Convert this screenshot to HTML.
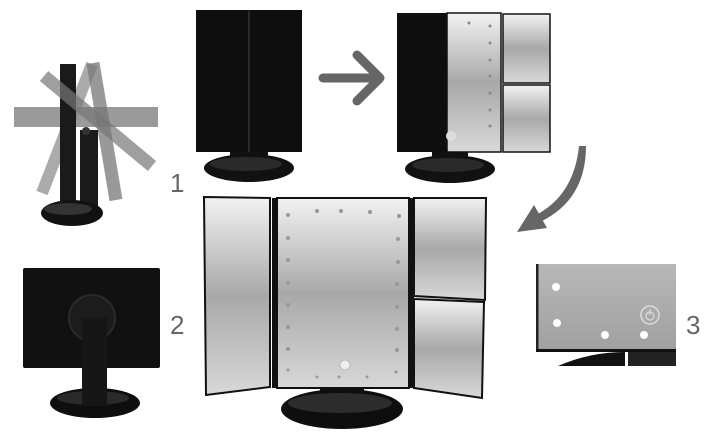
<!DOCTYPE html>
<html><head><meta charset="utf-8"><style>
html,body{margin:0;padding:0;background:#fff;width:720px;height:447px;overflow:hidden}
svg{display:block}
text{font-family:"Liberation Sans",sans-serif;fill:#555}
</style></head><body>
<svg width="720" height="447" viewBox="0 0 720 447" xmlns="http://www.w3.org/2000/svg">
<defs>
<linearGradient id="m" x1="0" y1="0" x2="0" y2="1">
<stop offset="0" stop-color="#f2f2f2"/><stop offset="0.5" stop-color="#a8a8a8"/><stop offset="1" stop-color="#d8d8d8"/>
</linearGradient>
<linearGradient id="g3" x1="0" y1="0" x2="0" y2="1">
<stop offset="0" stop-color="#b8b8b8"/><stop offset="1" stop-color="#a0a0a0"/>
</linearGradient>
</defs>
<rect width="720" height="447" fill="#fff"/>

<!-- fig 1 tilting -->
<g stroke-linecap="butt">
<line x1="42" y1="193" x2="92" y2="64" stroke="#888" stroke-width="12" opacity="0.7"/>
<rect x="14" y="107" width="144" height="20" fill="#888" opacity="0.85"/>
<rect x="60" y="64" width="16" height="140" fill="#1a1a1a"/>
<line x1="93" y1="63" x2="116" y2="200" stroke="#777" stroke-width="13" opacity="0.75"/>
<line x1="44" y1="76" x2="152" y2="166" stroke="#777" stroke-width="13" opacity="0.7"/>
<rect x="80" y="130" width="18" height="80" fill="#1a1a1a"/>
<circle cx="86" cy="131" r="4" fill="#333"/>
<ellipse cx="72" cy="213" rx="31" ry="13" fill="#111"/>
<ellipse cx="68" cy="209" rx="24" ry="6" fill="#333"/>
</g>
<text x="170" y="192" font-size="26" style="fill:#666">1</text>

<!-- top closed mirror -->
<rect x="230" y="145" width="38" height="15" fill="#111"/>
<ellipse cx="249" cy="168" rx="45" ry="14" fill="#111"/>
<ellipse cx="246" cy="164" rx="36" ry="7" fill="#2a2a2a"/>
<rect x="196" y="10" width="106" height="142" fill="#0e0e0e"/>
<line x1="249" y1="11" x2="249" y2="152" stroke="#444" stroke-width="1"/>

<!-- arrow right -->
<path d="M323 78 H378 M357 55 L380 78 L357 101" fill="none" stroke="#666" stroke-width="9" stroke-linecap="round" stroke-linejoin="round"/>

<!-- top right -->
<rect x="432" y="148" width="36" height="14" fill="#111"/>
<ellipse cx="450" cy="169" rx="45" ry="14" fill="#111"/>
<ellipse cx="448" cy="165" rx="36" ry="7" fill="#2a2a2a"/>
<rect x="397" y="13" width="51" height="139" fill="#0e0e0e"/>
<rect x="447" y="13" width="54" height="139" fill="url(#m)" stroke="#111" stroke-width="1.5"/>
<rect x="503" y="14" width="47" height="69" fill="url(#m)" stroke="#111" stroke-width="1.5"/>
<rect x="503" y="85" width="47" height="67" fill="url(#m)" stroke="#111" stroke-width="1.5"/>
<g fill="#888"><circle cx="469" cy="23" r="1.5"/><circle cx="490" cy="26" r="1.5"/><circle cx="490" cy="43" r="1.5"/><circle cx="490" cy="60" r="1.5"/><circle cx="490" cy="76" r="1.5"/><circle cx="490" cy="93" r="1.5"/><circle cx="490" cy="110" r="1.5"/><circle cx="490" cy="126" r="1.5"/></g>
<circle cx="451" cy="136" r="5" fill="#ddd"/>

<!-- curved arrow -->
<path d="M579 146 L586 146 Q586 200 540 222 L536 215 Q574 195 579 146 Z" fill="#666"/>
<path d="M517 232 L534 205 L547 228 Z" fill="#666"/>

<!-- main mirror -->
<rect x="320" y="385" width="44" height="20" fill="#111"/>
<ellipse cx="342" cy="409" rx="61" ry="20" fill="#0e0e0e"/>
<ellipse cx="340" cy="403" rx="52" ry="10" fill="#2c2c2c"/>
<path d="M204 197 L270 198 L270 387 L206 395 Z" fill="url(#m)" stroke="#111" stroke-width="2"/>
<rect x="272" y="198" width="6" height="190" fill="#111"/>
<rect x="277" y="198" width="132" height="190" fill="url(#m)" stroke="#111" stroke-width="2"/>
<rect x="408" y="198" width="6" height="190" fill="#111"/>
<path d="M414 198 L486 198 L485 300 L414 296 Z" fill="url(#m)" stroke="#111" stroke-width="2"/>
<path d="M414 299 L484 302 L482 398 L414 388 Z" fill="url(#m)" stroke="#111" stroke-width="2"/>
<g fill="#999">
<circle cx="288" cy="215" r="2"/><circle cx="317" cy="211" r="2"/><circle cx="341" cy="211" r="2"/><circle cx="370" cy="212" r="2"/><circle cx="399" cy="216" r="2"/>
<circle cx="288" cy="238" r="2"/><circle cx="288" cy="260" r="2"/><circle cx="288" cy="283" r="2"/><circle cx="288" cy="305" r="2"/><circle cx="288" cy="327" r="2"/><circle cx="288" cy="349" r="2"/><circle cx="288" cy="370" r="1.6"/>
<circle cx="398" cy="239" r="2"/><circle cx="398" cy="262" r="2"/><circle cx="397" cy="284" r="2"/><circle cx="397" cy="307" r="2"/><circle cx="397" cy="329" r="2"/><circle cx="397" cy="350" r="2"/><circle cx="396" cy="372" r="1.6"/>
<circle cx="317" cy="377" r="1.5"/><circle cx="339" cy="377" r="1.5"/><circle cx="367" cy="377" r="1.5"/>
</g>
<circle cx="345" cy="365" r="5" fill="#eee" stroke="#bbb"/>

<!-- fig 2 -->
<rect x="23" y="268" width="137" height="100" rx="2" fill="#111"/>
<circle cx="92" cy="318" r="23" fill="#1c1c1c" stroke="#2a2a2a" stroke-width="2"/>
<ellipse cx="95" cy="403" rx="45" ry="15" fill="#0e0e0e"/>
<ellipse cx="93" cy="398" rx="36" ry="7" fill="#2a2a2a"/>
<rect x="82" y="318" width="25" height="88" fill="#161616"/>
<text x="170" y="334" font-size="26" style="fill:#666">2</text>

<!-- fig 3 -->
<rect x="536" y="264" width="140" height="86" fill="url(#g3)"/>
<rect x="536" y="264" width="2.5" height="86" fill="#222"/>
<rect x="536" y="349" width="140" height="3" fill="#111"/>
<path d="M558 366 Q590 352 625 352 L625 366 Z" fill="#111"/>
<rect x="628" y="352" width="48" height="14" fill="#222"/>
<g fill="#fff"><circle cx="556" cy="287" r="4"/><circle cx="557" cy="323" r="4"/><circle cx="605" cy="335" r="4"/><circle cx="644" cy="335" r="4"/></g>
<circle cx="650" cy="315" r="9" fill="none" stroke="#ddd" stroke-width="1.5"/>
<circle cx="650" cy="316" r="4" fill="none" stroke="#ddd" stroke-width="1.2"/>
<line x1="650" y1="309" x2="650" y2="315" stroke="#ddd" stroke-width="1.2"/>
<text x="686" y="334" font-size="26" style="fill:#666">3</text>
</svg>
</body></html>
